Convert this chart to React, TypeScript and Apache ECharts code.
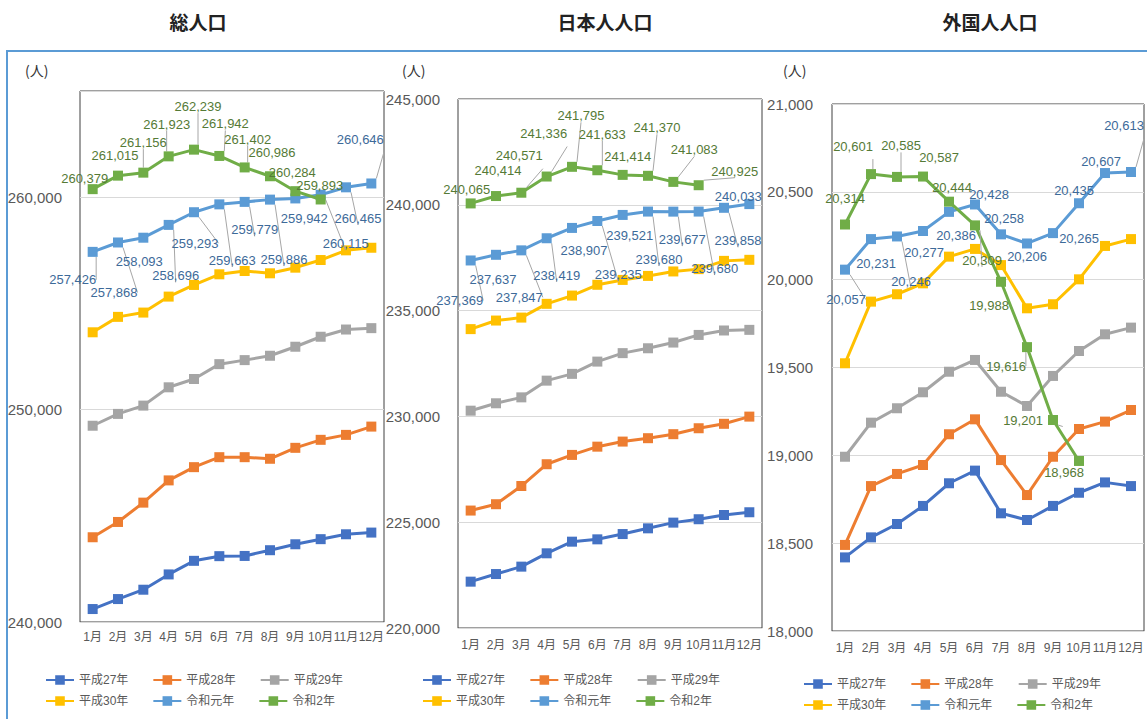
import React, { useEffect, useRef } from 'react';
import * as echarts from 'echarts';

const months = ['1月', '2月', '3月', '4月', '5月', '6月', '7月', '8月', '9月', '10月', '11月', '12月'];
const seriesNames = ['平成27年', '平成28年', '平成29年', '平成30年', '令和元年', '令和2年'];
const colors = ['#4472C4', '#ED7D31', '#A5A5A5', '#FFC000', '#5B9BD5', '#70AD47'];
const panelTitles = ['総人口', '日本人人口', '外国人人口'];

// 総人口
const totalH27 = [240610, 241080, 241520, 242240, 242880, 243100, 243110, 243380, 243660, 243900, 244130, 244210];
const totalH28 = [243990, 244710, 245620, 246667, 247290, 247760, 247760, 247685, 248200, 248577, 248810, 249200];
const totalH29 = [249240, 249798, 250188, 251050, 251440, 252140, 252330, 252535, 252960, 253430, 253770, 253835];
const totalH30 = [253640, 254366, 254568, 255320, 255869, 256370, 256526, 256417, 256682, 257042, 257498, 257620];
const totalR1 = [257426, 257868, 258093, 258696, 259293, 259663, 259779, 259886, 259942, 260115, 260465, 260646];
const totalR2 = [260379, 261015, 261156, 261923, 262239, 261942, 261402, 260986, 260284, 259893, null, null];

// 日本人人口
const jpH27 = [222190, 222550, 222900, 223530, 224080, 224190, 224440, 224710, 224980, 225140, 225340, 225470];
const jpH28 = [225550, 225850, 226710, 227740, 228180, 228570, 228810, 228970, 229160, 229440, 229650, 229990];
const jpH29 = [230270, 230620, 230900, 231690, 232010, 232590, 232990, 233220, 233490, 233850, 234060, 234090];
const jpH30 = [234125, 234530, 234670, 235320, 235710, 236220, 236450, 236640, 236850, 236960, 237350, 237400];
const jpR1 = [237369, 237637, 237847, 238419, 238907, 239235, 239521, 239680, 239677, 239680, 239858, 240033];
const jpR2 = [240065, 240414, 240571, 241336, 241795, 241633, 241414, 241370, 241083, 240925, null, null];

// 外国人人口
const frH27 = [18419, 18533, 18609, 18712, 18841, 18913, 18670, 18632, 18712, 18787, 18846, 18825];
const frH28 = [18490, 18825, 18894, 18945, 19120, 19205, 18973, 18774, 18992, 19150, 19192, 19258];
const frH29 = [18992, 19186, 19268, 19359, 19476, 19543, 19362, 19281, 19452, 19594, 19689, 19727];
const frH30 = [19524, 19875, 19917, 19979, 20131, 20175, 20083, 19837, 19860, 20002, 20192, 20231];
const frR1 = [20057, 20231, 20246, 20277, 20386, 20428, 20258, 20206, 20265, 20435, 20607, 20613];
const frR2 = [20314, 20601, 20585, 20587, 20444, 20309, 19988, 19616, 19201, 18968, null, null];

// data label offsets (px, from the point) — placement only
const offTotalR1 = [[-20, 28], [-4, 50], [-4, 24], [7, 51], [1, 31], [13, 56], [10, 28], [14, 60], [9, 20], [25, 49], [12, 31], [-11, -44]];
const offTotalR2 = [[-8, -11], [-3, -20], [0, -30], [-2, -32], [4, -43], [6, -32], [3, -28], [2, -24], [-3, -19], [-1, -14]];
const offJpR1 = [[-11, 40], [-3, 25], [-2, 47], [10, 37], [12, 23], [21, 54], [7, 21], [11, 48], [9, 28], [16, 57], [14, 33], [-11, -8]];
const offJpR2 = [[-4, -14], [2, -26], [-2, -37], [-3, -43], [9, -51], [5, -36], [5, -18], [9, -48], [21, -32], [36, -14]];
const offFrR1 = [[1, 30], [5, 24], [14, 45], [1, 21], [7, 24], [14, -10], [3, -16], [0, 13], [26, 5], [-5, -13], [-4, -12], [-7, -46]];
const offFrR2 = [[0, -26], [-18, -28], [4, -31], [16, -19], [3, -14], [7, 35], [-12, 24], [-21, 19], [-30, 0], [-15, 12]];

const FONT_NUM = "'Liberation Sans', 'Noto Sans CJK JP', sans-serif";
const FONT_CJK = "'Noto Sans CJK JP', sans-serif";
const LABEL_COLORS = ['', '', '', '', '#3D6A99', '#557A36'];

function fmt(v: any): string {
  if (v == null || v === '-') return '';
  return String(v).replace(/\B(?=(\d{3})+(?!\d))/g, ',');
}

const panels = [
  {
    data: [totalH27, totalH28, totalH29, totalH30, totalR1, totalR2],
    offsets: [null, null, null, null, offTotalR1, offTotalR2],
    grid: { left: 80, top: 91, width: 304, height: 531 },
    min: 240000, max: 265000, interval: 10000, showMax: false,
    yMargin: 18, xMargin: 9,
    titleX: 198, unitX: 25, legendLeft: 40, legendTop: [669, 690],
  },
  {
    data: [jpH27, jpH28, jpH29, jpH30, jpR1, jpR2],
    offsets: [null, null, null, null, offJpR1, offJpR2],
    grid: { left: 458, top: 99, width: 304, height: 529 },
    min: 220000, max: 245000, interval: 5000, showMax: true,
    yMargin: 18, xMargin: 11,
    titleX: 605, unitX: 402, legendLeft: 417, legendTop: [669, 690],
  },
  {
    data: [frH27, frH28, frH29, frH30, frR1, frR2],
    offsets: [null, null, null, null, offFrR1, offFrR2],
    grid: { left: 832, top: 104, width: 312, height: 527 },
    min: 18000, max: 21000, interval: 500, showMax: true,
    yMargin: 19, xMargin: 11,
    titleX: 990, unitX: 783, legendLeft: 798, legendTop: [673, 694],
  },
];

function buildOption() {
  const series: any[] = [];
  panels.forEach((p, pi) => {
    p.data.forEach((vals, si) => {
      const offs = p.offsets[si] as number[][] | null;
      const data = vals.map((v, k) => {
        if (v == null) return '-';
        if (!offs || !offs[k]) return v;
        const off = offs[k];
        const far = Math.hypot(off[0], off[1]) > 27;
        return {
          value: v,
          label: { offset: off },
          labelLine: { show: far },
        };
      });
      series.push({
        type: 'line',
        name: seriesNames[si],
        xAxisIndex: pi,
        yAxisIndex: pi,
        data,
        symbol: 'rect',
        symbolSize: 10,
        showAllSymbol: true,
        z: 2 + si,
        lineStyle: { color: colors[si], width: 3 },
        itemStyle: { color: colors[si] },
        emphasis: { disabled: true },
        label: {
          show: !!offs,
          position: 'inside',
          formatter: (prm: any) => fmt(prm.value),
          color: LABEL_COLORS[si] || '#000',
          fontSize: 13,
          fontFamily: FONT_NUM,
        },
        labelLine: { show: false, lineStyle: { color: '#A6A6A6', width: 1 } },
      });
    });
  });

  const legends: any[] = [];
  panels.forEach((p) => {
    [seriesNames.slice(0, 3), seriesNames.slice(3)].forEach((names, ri) => {
      legends.push({
        left: p.legendLeft,
        top: p.legendTop[ri],
        data: names,
        itemWidth: 28,
        itemHeight: 12,
        itemGap: 24,
        selectedMode: false,
        textStyle: { fontSize: 12, color: '#595959', fontFamily: FONT_NUM },
      });
    });
  });

  const graphic: any[] = [
    {
      type: 'rect',
      shape: { x: 7, y: 51, width: 1160, height: 700 },
      style: { fill: 'none', stroke: '#5B9BD5', lineWidth: 2 },
      silent: true,
    },
  ];
  panels.forEach((p, pi) => {
    graphic.push({
      type: 'text',
      x: p.titleX,
      y: 21,
      style: {
        text: panelTitles[pi],
        fontSize: 19,
        fontWeight: 'bold',
        fontFamily: FONT_CJK,
        fill: '#222',
        align: 'center',
        verticalAlign: 'middle',
      },
    });
    graphic.push({
      type: 'text',
      x: p.unitX,
      y: 70,
      style: {
        text: '(人)',
        fontSize: 14,
        fontFamily: FONT_CJK,
        fill: '#333',
        align: 'left',
        verticalAlign: 'middle',
      },
    });
  });

  return {
    animation: false,
    backgroundColor: '#ffffff',
    grid: panels.map((p) => ({ ...p.grid, show: true, borderColor: '#404040', borderWidth: 1, backgroundColor: 'transparent' })),
    xAxis: panels.map((p, i) => ({
      type: 'category',
      gridIndex: i,
      data: months,
      boundaryGap: true,
      axisTick: { show: false },
      axisLine: { lineStyle: { color: '#D9D9D9', width: 1 } },
      axisLabel: { interval: 0, margin: p.xMargin, fontSize: 12, color: '#595959', fontFamily: FONT_NUM },
    })),
    yAxis: panels.map((p, i) => ({
      type: 'value',
      gridIndex: i,
      min: p.min,
      max: p.max,
      interval: p.interval,
      axisLine: { show: false },
      axisTick: { show: false },
      splitLine: { lineStyle: { color: '#D9D9D9', width: 1 } },
      axisLabel: {
        margin: p.yMargin,
        fontSize: 15,
        color: '#595959',
        fontFamily: FONT_NUM,
        formatter: (v: number) => fmt(v),
        showMaxLabel: p.showMax,
        showMinLabel: true,
      },
    })),
    legend: legends,
    graphic,
    series,
  };
}

export default function App() {
  const ref = useRef<HTMLDivElement>(null);
  useEffect(() => {
    if (!ref.current) return;
    const chart = echarts.init(ref.current, undefined, { renderer: 'svg' });
    chart.setOption(buildOption() as any);
    return () => chart.dispose();
  }, []);
  return (
    <div
      ref={ref}
      style={{ position: 'fixed', left: 0, top: 0, width: 1147, height: 719, background: '#fff' }}
    />
  );
}
